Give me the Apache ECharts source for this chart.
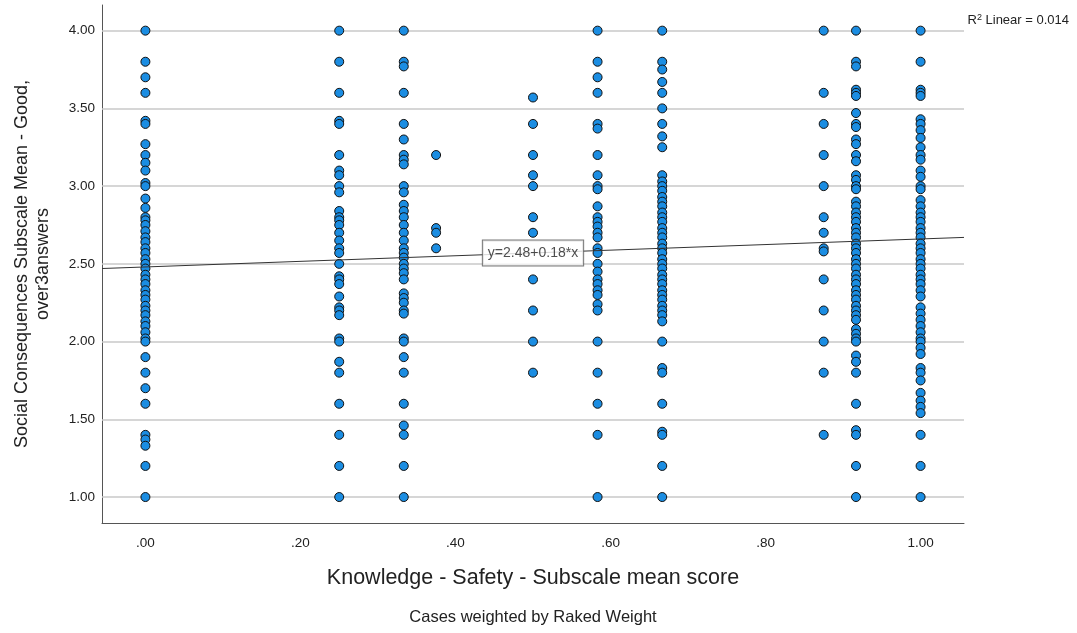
<!DOCTYPE html>
<html>
<head>
<meta charset="utf-8">
<script src="https://cdn.jsdelivr.net/npm/echarts@6/dist/echarts.min.js"></script>
<style>
html,body{margin:0;padding:0;background:#fff;}
#chart{width:1077px;height:633px;}
</style>
</head>
<body>
<div id="chart"></div>
<script>
// ---- data ----
const xLevels = [0, 0.25, 0.3333, 0.375, 0.5, 0.5833, 0.6667, 0.875, 0.9167, 1.0];
const col000 = [4.0, 3.8, 3.7, 3.6, 3.42, 3.4, 3.27, 3.2, 3.15, 3.1, 3.02, 3.0, 2.92, 2.86, 2.8, 2.78, 2.75, 2.71, 2.67, 2.64, 2.6, 2.57, 2.53, 2.5, 2.47, 2.43, 2.4, 2.37, 2.33, 2.3, 2.27, 2.23, 2.2, 2.17, 2.13, 2.1, 2.06, 2.02, 2.0, 1.9, 1.8, 1.7, 1.6, 1.4, 1.37, 1.33, 1.2, 1.0];
const col025 = [4.0, 3.8, 3.6, 3.42, 3.4, 3.2, 3.1, 3.07, 3.0, 2.96, 2.84, 2.8, 2.78, 2.75, 2.7, 2.65, 2.6, 2.57, 2.5, 2.42, 2.4, 2.37, 2.29, 2.22, 2.2, 2.17, 2.02, 2.0, 1.87, 1.8, 1.6, 1.4, 1.2, 1.0];
const col033 = [4.0, 3.8, 3.77, 3.6, 3.4, 3.3, 3.2, 3.17, 3.14, 3.0, 2.96, 2.88, 2.84, 2.8, 2.75, 2.7, 2.65, 2.6, 2.57, 2.54, 2.5, 2.47, 2.44, 2.4, 2.31, 2.28, 2.25, 2.2, 2.18, 2.02, 2.0, 1.9, 1.8, 1.6, 1.46, 1.4, 1.2, 1.0];
const col0375 = [3.2, 2.73, 2.7, 2.6];
const col050 = [3.57, 3.4, 3.2, 3.07, 3.0, 2.8, 2.7, 2.4, 2.2, 2.0, 1.8];
const col058 = [4.0, 3.8, 3.7, 3.6, 3.4, 3.37, 3.2, 3.07, 3.0, 2.98, 2.87, 2.8, 2.77, 2.74, 2.7, 2.67, 2.6, 2.57, 2.5, 2.45, 2.4, 2.37, 2.33, 2.3, 2.24, 2.2, 2.0, 1.8, 1.6, 1.4, 1.0];
const col067 = [4.0, 3.8, 3.75, 3.67, 3.6, 3.5, 3.4, 3.32, 3.25, 3.07, 3.03, 3.0, 2.97, 2.93, 2.9, 2.87, 2.83, 2.8, 2.77, 2.73, 2.7, 2.67, 2.63, 2.6, 2.57, 2.53, 2.5, 2.47, 2.43, 2.4, 2.37, 2.33, 2.3, 2.27, 2.23, 2.2, 2.17, 2.13, 2.0, 1.83, 1.8, 1.6, 1.42, 1.4, 1.2, 1.0];
const col0875 = [4.0, 3.6, 3.4, 3.2, 3.0, 2.8, 2.7, 2.6, 2.58, 2.4, 2.2, 2.0, 1.8, 1.4];
const col092 = [4.0, 3.8, 3.77, 3.62, 3.6, 3.58, 3.47, 3.4, 3.38, 3.3, 3.27, 3.2, 3.16, 3.07, 3.04, 3.0, 2.98, 2.9, 2.87, 2.83, 2.8, 2.77, 2.73, 2.7, 2.67, 2.63, 2.6, 2.57, 2.53, 2.5, 2.47, 2.43, 2.4, 2.37, 2.33, 2.3, 2.27, 2.23, 2.2, 2.17, 2.14, 2.08, 2.05, 2.02, 2.0, 1.91, 1.87, 1.8, 1.6, 1.43, 1.4, 1.2, 1.0];
const col100 = [4.0, 3.8, 3.62, 3.6, 3.58, 3.43, 3.4, 3.36, 3.31, 3.25, 3.2, 3.17, 3.1, 3.06, 3.0, 2.98, 2.91, 2.87, 2.83, 2.8, 2.77, 2.73, 2.7, 2.67, 2.63, 2.6, 2.57, 2.53, 2.5, 2.47, 2.43, 2.4, 2.37, 2.33, 2.29, 2.22, 2.18, 2.14, 2.1, 2.06, 2.02, 2.0, 1.96, 1.92, 1.83, 1.8, 1.75, 1.67, 1.62, 1.58, 1.54, 1.4, 1.2, 1.0];
const columns = [col000, col025, col033, col0375, col050, col058, col067, col0875, col092, col100];

const xTicks = [0, 0.2, 0.4, 0.6, 0.8, 1.0];
const yTicks = [1.0, 1.5, 2.0, 2.5, 3.0, 3.5, 4.0];
const fitIntercept = 2.48;
const fitSlope = 0.18;
const fitLabel = 'y=2.48+0.18*x';
const r2Text = '0.014';
const xTitle = 'Knowledge - Safety - Subscale mean score';
const yTitle = 'Social Consequences Subscale Mean - Good,\nover3answers';
const footnote = 'Cases weighted by Raked Weight';

// ---- build ----
const X_MIN = -0.056, X_MAX = 1.056, Y_MIN = 0.833, Y_MAX = 4.165;
const points = [];
columns.forEach((col, i) => col.forEach(v => points.push([xLevels[i], v])));
const fitLine = [[X_MIN, fitIntercept + fitSlope * X_MIN], [X_MAX, fitIntercept + fitSlope * X_MAX]];
const labelPt = [[0.5, fitIntercept + fitSlope * 0.5]];

const FONT = '"Liberation Sans", Arial, sans-serif';
const chart = echarts.init(document.getElementById('chart'), null, {renderer: 'canvas'});
chart.setOption({
  animation: false,
  backgroundColor: '#fff',
  grid: {left: 102, right: 113, top: 5, bottom: 110, containLabel: false, outerBoundsMode: 'none'},
  title: {
    text: '{a|R}{s|2}{a| Linear = ' + r2Text + '}',
    right: 3, top: 8,
    textStyle: {
      fontWeight: 'normal',
      rich: {
        a: {fontFamily: FONT, fontSize: 13, fontWeight: 'normal', color: '#222', lineHeight: 14, verticalAlign: 'bottom'},
        s: {fontFamily: FONT, fontSize: 9, fontWeight: 'normal', color: '#222', lineHeight: 8, verticalAlign: 'top'}
      }
    }
  },
  xAxis: {
    type: 'value', min: X_MIN, max: X_MAX,
    name: xTitle, nameLocation: 'middle', nameGap: 44,
    nameTextStyle: {fontFamily: FONT, fontSize: 21.5, color: '#222'},
    axisLine: {show: true, onZero: false, lineStyle: {color: '#555', width: 1}},
    axisTick: {show: false},
    splitLine: {show: false},
    axisLabel: {
      customValues: xTicks, margin: 13, fontFamily: FONT, fontSize: 13.5, color: '#222',
      formatter: v => { const s = Number(v).toFixed(2); return s.startsWith('0') ? s.slice(1) : s; }
    }
  },
  yAxis: {
    type: 'value', min: Y_MIN, max: Y_MAX,
    name: yTitle, nameLocation: 'middle', nameGap: 48,
    nameTextStyle: {fontFamily: FONT, fontSize: 18, lineHeight: 21, color: '#222'},
    axisLine: {show: true, onZero: false, lineStyle: {color: '#555', width: 1}},
    axisTick: {show: false},
    splitLine: {show: false},
    axisLabel: {
      customValues: yTicks, margin: 7, fontFamily: FONT, fontSize: 13.5, color: '#222',
      formatter: v => Number(v).toFixed(2)
    }
  },
  graphic: [{
    type: 'text', x: 533, y: 617,
    style: {text: footnote, font: '16.5px ' + FONT, fill: '#222', textAlign: 'center', textVerticalAlign: 'middle'}
  }],
  series: [
    {
      type: 'scatter', data: [], z: 1, silent: true,
      markLine: {
        z: 1, silent: true, symbol: ['none', 'none'], animation: false,
        label: {show: false},
        lineStyle: {color: '#c8c8c8', type: 'solid', width: 1.5},
        data: yTicks.map(v => ({yAxis: v}))
      }
    },
    {
      type: 'scatter', data: points, z: 3, silent: true,
      symbol: 'circle', symbolSize: 9,
      itemStyle: {color: '#1b8de2', borderColor: '#111', borderWidth: 1, opacity: 1}
    },
    {
      type: 'line', data: fitLine, z: 4, silent: true,
      showSymbol: false, symbol: 'none',
      lineStyle: {color: '#333', width: 1}
    },
    {
      type: 'scatter', data: labelPt, z: 5, silent: true,
      symbolSize: 1, itemStyle: {color: 'rgba(0,0,0,0)'},
      label: {
        show: true, position: 'inside', formatter: fitLabel,
        fontFamily: FONT, fontSize: 14, color: '#222',
        backgroundColor: '#fff', borderColor: '#555', borderWidth: 1,
        padding: [6, 5, 5, 5]
      }
    }
  ]
});
</script>
</body>
</html>
